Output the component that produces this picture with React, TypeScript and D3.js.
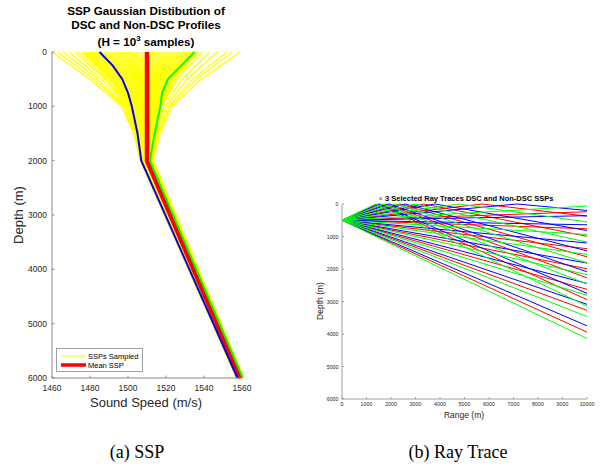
import React from "react";
import * as d3 from "d3";

// ---------- Panel (a): SSP data ----------
const sspDepths = [0, 500, 1000, 1500, 2000, 6000];
const sampledSSPs: number[][] = [
  [1460, 1480, 1496.5, 1503, 1506.5, 1557],
  [1463, 1482, 1497.5, 1503.5, 1506.7, 1557.2],
  [1466, 1484, 1498, 1504, 1507, 1557.3],
  [1469, 1486, 1499, 1504.3, 1507.1, 1557.4],
  [1472, 1488, 1499.7, 1504.7, 1507.3, 1557.5],
  [1474, 1489, 1500.3, 1505, 1507.5, 1557.6],
  [1476, 1490.5, 1500.8, 1505.2, 1507.6, 1557.7],
  [1477, 1491.2, 1501.1, 1505.3, 1507.7, 1557.7],
  [1478, 1492, 1501.4, 1505.5, 1507.8, 1557.8],
  [1479, 1492.5, 1501.7, 1505.6, 1507.9, 1557.8],
  [1480, 1493, 1502, 1505.8, 1508, 1557.8],
  [1481, 1493.7, 1502.2, 1505.9, 1508, 1557.8],
  [1482, 1494.5, 1502.5, 1506, 1508, 1557.9],
  [1483, 1495.2, 1502.7, 1506.2, 1508.1, 1557.9],
  [1484, 1496, 1503, 1506.4, 1508.2, 1558],
  [1485, 1496.5, 1503.2, 1506.5, 1508.2, 1558],
  [1486, 1497, 1503.5, 1506.6, 1508.3, 1558],
  [1487, 1497.7, 1503.7, 1506.8, 1508.4, 1558],
  [1488, 1498.5, 1504, 1507, 1508.5, 1558.1],
  [1489, 1499.2, 1504.3, 1507.1, 1508.5, 1558.1],
  [1490, 1500, 1504.6, 1507.2, 1508.6, 1558.2],
  [1491, 1500.5, 1504.8, 1507.3, 1508.6, 1558.2],
  [1492, 1501, 1505.1, 1507.5, 1508.7, 1558.3],
  [1493, 1501.7, 1505.4, 1507.6, 1508.8, 1558.3],
  [1494, 1502.5, 1505.7, 1507.8, 1508.9, 1558.4],
  [1495, 1503, 1506, 1507.9, 1508.9, 1558.4],
  [1496, 1503.5, 1506.2, 1508, 1509, 1558.4],
  [1497, 1504, 1506.5, 1508.1, 1509.1, 1558.4],
  [1498, 1504.5, 1506.8, 1508.3, 1509.2, 1558.5],
  [1499, 1504.7, 1507, 1508.4, 1509.2, 1558.5],
  [1500, 1505, 1507.3, 1508.6, 1509.3, 1558.6],
  [1501, 1505.5, 1507.5, 1508.7, 1509.3, 1558.6],
  [1502, 1506, 1507.8, 1508.9, 1509.4, 1558.7],
  [1503, 1506.5, 1508.1, 1509, 1509.5, 1558.7],
  [1504, 1507, 1508.4, 1509.2, 1509.6, 1558.8],
  [1505, 1507.5, 1508.7, 1509.3, 1509.6, 1558.8],
  [1506, 1508, 1509, 1509.4, 1509.7, 1558.8],
  [1507, 1508.5, 1509.2, 1509.5, 1509.8, 1558.8],
  [1508, 1509, 1509.5, 1509.7, 1509.9, 1558.9],
  [1509, 1509.5, 1509.7, 1509.8, 1509.9, 1558.9],
  [1510, 1510, 1510, 1510, 1510, 1559],
  [1511, 1510.5, 1510.2, 1510.1, 1510, 1559],
  [1512, 1511, 1510.5, 1510.3, 1510.1, 1559.1],
  [1513, 1511.5, 1510.7, 1510.4, 1510.2, 1559.1],
  [1514, 1512, 1511, 1510.6, 1510.3, 1559.2],
  [1515, 1512.5, 1511.3, 1510.7, 1510.3, 1559.2],
  [1516, 1513, 1511.6, 1510.8, 1510.4, 1559.2],
  [1517, 1513.5, 1511.9, 1511, 1510.5, 1559.2],
  [1518, 1514, 1512.2, 1511.1, 1510.6, 1559.3],
  [1519, 1514.5, 1512.4, 1511.2, 1510.6, 1559.3],
  [1520, 1515, 1512.7, 1511.4, 1510.7, 1559.4],
  [1521, 1515.2, 1512.9, 1511.5, 1510.7, 1559.4],
  [1522, 1515.5, 1513.2, 1511.7, 1510.8, 1559.5],
  [1523, 1516, 1513.5, 1511.8, 1510.9, 1559.5],
  [1524, 1516.5, 1513.8, 1512, 1511, 1559.6],
  [1525, 1517, 1514, 1512.1, 1511, 1559.6],
  [1526, 1517.5, 1514.3, 1512.2, 1511.1, 1559.6],
  [1527, 1518, 1514.6, 1512.3, 1511.2, 1559.6],
  [1528, 1518.5, 1514.9, 1512.5, 1511.3, 1559.7],
  [1529, 1519.2, 1515.1, 1512.6, 1511.3, 1559.7],
  [1530, 1520, 1515.4, 1512.8, 1511.4, 1559.8],
  [1531, 1520.5, 1515.7, 1512.9, 1511.4, 1559.8],
  [1532, 1521, 1516, 1513, 1511.5, 1559.9],
  [1533, 1521.7, 1516.2, 1513.2, 1511.6, 1559.9],
  [1534, 1522.5, 1516.5, 1513.4, 1511.7, 1560],
  [1535, 1523.2, 1516.7, 1513.5, 1511.7, 1560],
  [1536, 1524, 1517, 1513.6, 1511.8, 1560],
  [1537, 1525, 1517.4, 1513.8, 1511.9, 1560.1],
  [1539, 1526, 1517.8, 1514, 1512, 1560.2],
  [1543, 1528.5, 1518.9, 1514.6, 1512.3, 1560.3],
  [1547, 1531, 1520, 1515.2, 1512.6, 1560.5],
  [1552, 1534, 1521.3, 1515.9, 1512.9, 1560.7],
  [1555, 1536, 1522.2, 1516.3, 1513.1, 1560.8],
  [1559, 1538.5, 1523.2, 1516.9, 1513.4, 1561],
];
const meanSSP = [1510, 1510, 1510, 1510, 1510, 1559];
const dscDepths = [0, 250, 500, 750, 1000, 1500, 2000, 6000];
const dscSSP = [1485, 1492, 1497, 1500, 1502, 1505, 1507, 1557.6];
const nonDscSSP = [1535, 1528, 1521, 1518, 1517, 1514, 1511.5, 1560.4];
const speedTicks = [1460, 1480, 1500, 1520, 1540, 1560];
const depthTicks = [0, 1000, 2000, 3000, 4000, 5000, 6000];
const rangeTicks = [0, 1000, 2000, 3000, 4000, 5000, 6000, 7000, 8000, 9000, 10000];

// ---------- Panel (b): ray launch angles (deg, negative = upward) ----------
const sourceDepth = 500;
const maxRange = 10000;
const raysMean = [-19, -15.5, -12, -8.5, -5, -1.5, 1.5, 5, 8.5, 12, 15.5, 19];
const raysDsc = [-18, -14.5, -11, -7.5, -4, -0.8, 0.8, 4, 7.5, 11, 14.5, 18];
const raysNonDsc = [-20, -16.5, -13, -9.5, -6, -2.5, 2.5, 6, 9.5, 13, 16.5, 20];

const FONT = "'Liberation Sans', Arial, Helvetica, sans-serif";
const AXIS = "#8a8a8a";
const LABEL = "#262626";

function rayPath(angle: number): [number, number][] {
  const t = Math.tan((Math.abs(angle) * Math.PI) / 180);
  if (angle >= 0) return [[0, sourceDepth], [maxRange, sourceDepth + maxRange * t]];
  const rs = sourceDepth / t;
  if (rs < maxRange) return [[0, sourceDepth], [rs, 0], [maxRange, maxRange * t - sourceDepth]];
  return [[0, sourceDepth], [maxRange, sourceDepth - maxRange * t]];
}

export default function App() {
  // Panel (a) scales
  const xA = d3.scaleLinear().domain([1460, 1560]).range([52, 242]);
  const yA = d3.scaleLinear().domain([0, 6000]).range([52, 378]);
  const lineA = (depths: number[]) =>
    d3
      .line<number>()
      .x((v) => xA(v))
      .y((_, i) => yA(depths[i]));

  // Panel (b) scales
  const xB = d3.scaleLinear().domain([0, 10000]).range([342, 587]);
  const yB = d3.scaleLinear().domain([0, 6000]).range([204, 399]);
  const lineB = d3
    .line<[number, number]>()
    .x((p) => xB(p[0]))
    .y((p) => yB(p[1]));

  const rayGroups: [number[], string][] = [
    [raysMean, "#ff0000"],
    [raysDsc, "#0000ff"],
    [raysNonDsc, "#00ff00"],
  ];

  return (
    <div style={{ position: "absolute", left: 0, top: 0 }}>
      <svg width={602} height={466} style={{ display: "block", background: "#fff" }}>
        {/* ===== Panel (a) ===== */}
        <g fontFamily={FONT}>
          <text x={146} y={15} textAnchor="middle" fontSize={11.7} fontWeight="bold" fill="#000">
            SSP Gaussian Distibution of
          </text>
          <text x={146} y={29} textAnchor="middle" fontSize={11.7} fontWeight="bold" fill="#000">
            DSC and Non-DSC Profiles
          </text>
          <text x={146} y={46} textAnchor="middle" fontSize={11.7} fontWeight="bold" fill="#000">
            (H = 10
            <tspan dy={-5} fontSize={8}>3</tspan>
            <tspan dy={5}> samples)</tspan>
          </text>

          {sampledSSPs.map((row, i) => (
            <path key={i} d={lineA(sspDepths)(row) || ""} fill="none" stroke="#ffff00" strokeWidth={1.3} />
          ))}
          <path d={lineA(sspDepths)(meanSSP) || ""} fill="none" stroke="#ff0000" strokeWidth={4.5} />
          <path d={lineA(dscDepths)(dscSSP) || ""} fill="none" stroke="#0000ff" strokeWidth={2} />
          <path d={lineA(dscDepths)(nonDscSSP) || ""} fill="none" stroke="#00ff00" strokeWidth={2} />

          {/* axes */}
          <line x1={52} x2={52} y1={52} y2={378} stroke={AXIS} strokeWidth={1} />
          <line x1={52} x2={242} y1={378} y2={378} stroke={AXIS} strokeWidth={1} />
          {depthTicks.map((t) => (
            <g key={t}>
              <line x1={52} x2={54.5} y1={yA(t)} y2={yA(t)} stroke={AXIS} />
              <text x={47} y={yA(t) + 3} textAnchor="end" fontSize={8.5} fill={LABEL}>
                {t}
              </text>
            </g>
          ))}
          {speedTicks.map((t) => (
            <g key={t}>
              <line x1={xA(t)} x2={xA(t)} y1={378} y2={375.5} stroke={AXIS} />
              <text x={xA(t)} y={391} textAnchor="middle" fontSize={8.5} fill={LABEL}>
                {t}
              </text>
            </g>
          ))}
          <text x={146} y={407} textAnchor="middle" fontSize={13} fill={LABEL}>
            Sound Speed (m/s)
          </text>
          <text
            transform={`translate(23,${215}) rotate(-90)`}
            textAnchor="middle"
            fontSize={13}
            fill={LABEL}
          >
            Depth (m)
          </text>

          {/* legend */}
          <rect x={56.5} y={348.5} width={86} height={23} fill="#fff" stroke={AXIS} strokeWidth={0.8} />
          <line x1={61} x2={86} y1={356} y2={356} stroke="#ffff00" strokeWidth={1} />
          <text x={88} y={358.8} fontSize={7.5} fill="#000">
            SSPs Sampled
          </text>
          <line x1={61} x2={86} y1={365} y2={365} stroke="#ff0000" strokeWidth={3.5} />
          <text x={88} y={367.8} fontSize={7.5} fill="#000">
            Mean SSP
          </text>
        </g>

        {/* ===== Panel (b) ===== */}
        <g fontFamily={FONT}>
          {rayGroups.map(([angles, color], gi) =>
            angles.map((a, i) => (
              <path
                key={`${gi}-${i}`}
                d={lineB(rayPath(a)) || ""}
                fill="none"
                stroke={color}
                strokeWidth={1}
              />
            ))
          )}
          <text x={466} y={201} textAnchor="middle" fontSize={7.5} fill="#000">
            <tspan fontWeight="normal" fill="#555">× </tspan>
            <tspan fontWeight="bold">3 Selected Ray Traces DSC and Non-DSC SSPs</tspan>
          </text>
          <line x1={342} x2={342} y1={204} y2={399} stroke={AXIS} strokeWidth={0.8} />
          <line x1={342} x2={587} y1={399} y2={399} stroke={AXIS} strokeWidth={0.8} />
          {depthTicks.map((t) => (
            <g key={t}>
              <line x1={342} x2={344} y1={yB(t)} y2={yB(t)} stroke={AXIS} strokeWidth={0.8} />
              <text x={338.5} y={yB(t) + 2} textAnchor="end" fontSize={5.3} fill={LABEL}>
                {t}
              </text>
            </g>
          ))}
          {rangeTicks.map((t) => (
            <g key={t}>
              <line x1={xB(t)} x2={xB(t)} y1={399} y2={397} stroke={AXIS} strokeWidth={0.8} />
              <text x={xB(t)} y={406} textAnchor="middle" fontSize={5.3} fill={LABEL}>
                {t}
              </text>
            </g>
          ))}
          <text x={464} y={418} textAnchor="middle" fontSize={8.5} fill={LABEL}>
            Range (m)
          </text>
          <text transform={`translate(323,${301}) rotate(-90)`} textAnchor="middle" fontSize={8.5} fill={LABEL}>
            Depth (m)
          </text>
        </g>

        {/* captions */}
        <g fontFamily="'Liberation Serif', 'Times New Roman', serif" fontSize={18} fill="#000">
          <text x={137} y={458} textAnchor="middle">
            (a) SSP
          </text>
          <text x={458} y={458} textAnchor="middle">
            (b) Ray Trace
          </text>
        </g>
      </svg>
    </div>
  );
}
